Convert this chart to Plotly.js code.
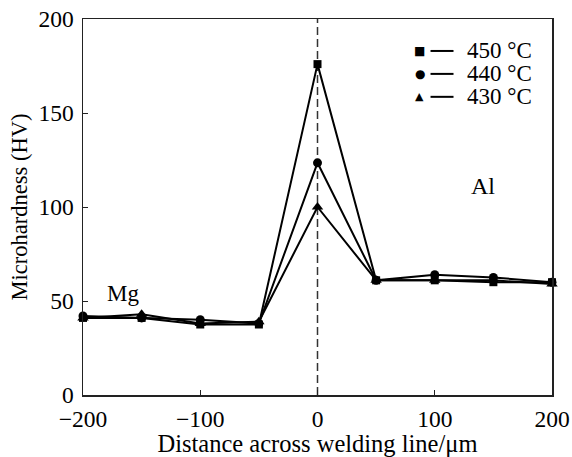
<!DOCTYPE html>
<html><head><meta charset="utf-8">
<script src="https://cdn.plot.ly/plotly-3.0.1.min.js"></script>
<style>body{margin:0;background:#fff}#c{width:572px;height:457px}</style>
</head><body><div id="c"></div>
<script>
const distance = [-200, -150, -100, -50, 0, 50, 100, 150, 200];
const hv450 = [41, 41, 37.5, 37.5, 176, 61, 61, 60, 60];
const hv440 = [42, 41, 40, 38, 123.5, 61, 64, 62.5, 60];
const hv430 = [41, 43, 38, 39, 100, 61, 61, 61, 59];
const seriesNames = ['450 °C', '440 °C', '430 °C'];
const tickVals = [-200, -100, 0, 100, 200];
const yTickVals = [0, 50, 100, 150, 200];

const font = 'Liberation Serif';
const mk = (y, sym, size, name) => ({
  x: distance, y: y, type: 'scatter', mode: 'lines+markers', name: name,
  line: {color: '#000', width: 2},
  marker: {symbol: sym, size: size, color: '#000'},
  showlegend: false, cliponaxis: false
});
const traces = [
  mk(hv430, 'triangle-up', 10, seriesNames[2]),
  mk(hv440, 'circle', 9, seriesNames[1]),
  mk(hv450, 'square', 8, seriesNames[0])
];

const legendSyms = ['■', '●', '▲'];
const annotations = [];
const shapes = [
  {type: 'line', xref: 'x', yref: 'paper', x0: 0, x1: 0, y0: 0, y1: 1,
   line: {color: '#333', width: 1.5, dash: '8px,4px'}, layer: 'below'}
];
const legTop = 0.915, legStep = 0.061;
for (let i = 0; i < 3; i++) {
  const yy = legTop - i * legStep;
  annotations.push({xref: 'paper', yref: 'paper', x: 0.718, y: yy, text: legendSyms[i],
    showarrow: false, xanchor: 'center', yanchor: 'middle', font: {family: 'DejaVu Sans', size: i === 2 ? 11 : 12, color: '#000'}});
  shapes.push({type: 'line', xref: 'paper', yref: 'paper', x0: 0.741, x1: 0.79, y0: yy, y1: yy,
    line: {color: '#000', width: 2}});
  annotations.push({xref: 'paper', yref: 'paper', x: 0.814, y: yy, text: seriesNames[i],
    showarrow: false, xanchor: 'left', yanchor: 'middle', font: {family: font, size: 23, color: '#000'}});
}
annotations.push({xref: 'x', yref: 'y', x: -166, y: 54, text: 'Mg', showarrow: false,
  font: {family: font, size: 23, color: '#000'}});
annotations.push({xref: 'x', yref: 'y', x: 141, y: 111, text: 'Al', showarrow: false,
  font: {family: font, size: 24, color: '#000'}});

const layout = {
  width: 572, height: 457,
  margin: {l: 83, r: 20, t: 19, b: 62},
  paper_bgcolor: '#fff', plot_bgcolor: '#fff',
  font: {family: font, color: '#000', size: 22},
  xaxis: {range: [-200, 200], tickvals: tickVals, ticks: 'inside', ticklen: 5, tickcolor: '#222',
    showline: true, linecolor: '#222', linewidth: 1.5, mirror: true, showgrid: false, zeroline: false,
    tickfont: {family: font, size: 23.5}, ticklabelstandoff: 2,
    title: {text: 'Distance across welding line/μm', font: {family: font, size: 24.5}, standoff: 5}},
  yaxis: {range: [0, 200], tickvals: yTickVals, ticks: 'inside', ticklen: 5, tickcolor: '#222',
    showline: true, linecolor: '#222', linewidth: 1.5, mirror: true, showgrid: false, zeroline: false,
    tickfont: {family: font, size: 23.5}, ticklabelstandoff: 3,
    title: {text: 'Microhardness (HV)', font: {family: font, size: 22.5}, standoff: 4}},
  shapes: shapes, annotations: annotations, showlegend: false
};
Plotly.newPlot('c', traces, layout, {staticPlot: true});
</script></body></html>
